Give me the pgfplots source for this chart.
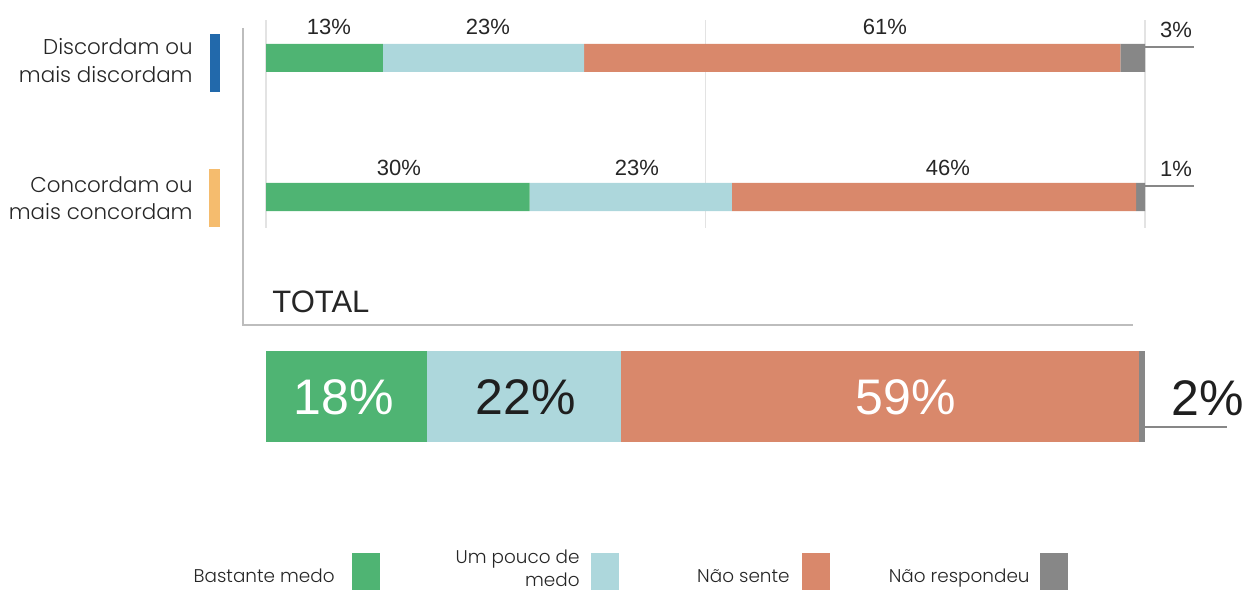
\documentclass[border=0pt]{standalone}
\usepackage{fontspec}
\usepackage{pgfplots}
\pgfplotsset{compat=1.18}
\setmainfont{Poppins}[UprightFont={* Light}]
\newfontfamily\num{Liberation Sans}
\definecolor{cgreen}{HTML}{4FB473}
\definecolor{clblue}{HTML}{ADD7DC}
\definecolor{corange}{HTML}{D9886B}
\definecolor{cgrey}{HTML}{878787}
\definecolor{cblue}{HTML}{2269AB}
\definecolor{cyellow}{HTML}{F5BC6E}
\definecolor{ctext}{HTML}{262626}
\definecolor{cgrid}{HTML}{E3E3E3}
\definecolor{cframe}{HTML}{BDBDBD}
\begin{document}
\begin{tikzpicture}
\path[use as bounding box] (0,0) rectangle (623pt,295pt);
% top axis
\begin{axis}[at={(133pt,285pt)},anchor=north west,scale only axis,
  width=439.5pt,height=104pt,xmin=0,xmax=100,ymin=362,ymax=570,
  xbar stacked,bar width=14pt,
  axis line style={draw=none},xtick={0,50,100},xticklabels={},
  ytick=\empty,tick style={draw=none},xmajorgrids,
  major grid style={draw=cgrid,line width=0.6pt},clip=false]
\addplot[fill=cgreen,draw=none] coordinates {(13.3,532) (30,393)};
\addplot[fill=clblue,draw=none] coordinates {(22.9,532) (23,393)};
\addplot[fill=corange,draw=none] coordinates {(61,532) (46,393)};
\addplot[fill=cgrey,draw=none] coordinates {(2.8,532) (1,393)};
\end{axis}
% total axis
\begin{axis}[at={(133pt,119.5pt)},anchor=north west,scale only axis,
  width=439.5pt,height=45.5pt,xmin=0,xmax=100,ymin=148,ymax=239,
  xbar stacked,bar width=45.5pt,hide axis,clip=false]
\addplot[fill=cgreen,draw=none] coordinates {(18.3,193.5)};
\addplot[fill=clblue,draw=none] coordinates {(22.1,193.5)};
\addplot[fill=corange,draw=none] coordinates {(58.9,193.5)};
\addplot[fill=cgrey,draw=none] coordinates {(0.7,193.5)};
\end{axis}
\begin{scope}[x=0.5pt,y=0.5pt]
% frame
\draw[cframe,line width=0.7pt] (243,562) -- (243,265) -- (1133,265);
% indicators
\fill[cblue] (210,556) rectangle (220,498);
\fill[cyellow] (209,421) rectangle (220,363);
% row labels
\begin{scope}[every node/.style={text=ctext,font=\fontsize{10.7pt}{13pt}\selectfont,inner sep=0pt}]
\node[anchor=base east] at (193,535) {Discordam ou};
\node[anchor=base east] at (193,507) {mais discordam};
\node[anchor=base east] at (193,398) {Concordam ou};
\node[anchor=base east] at (193,371) {mais concordam};
\end{scope}
% percent labels
\begin{scope}[every node/.style={text=ctext,font=\num\fontsize{11pt}{13pt}\selectfont,inner sep=0pt,anchor=base}]
\node at (329,555) {13\%};
\node at (488,555) {23\%};
\node at (885,555) {61\%};
\node at (399,415) {30\%};
\node at (637,415) {23\%};
\node at (948,415) {46\%};
\node at (1176,552) {3\%};
\node at (1176,413) {1\%};
\end{scope}
\draw[cgrey,line width=1pt] (1145,543) -- (1194,543);
\draw[cgrey,line width=1pt] (1145,404) -- (1194,404);
\draw[cgrey,line width=1pt] (1145,163) -- (1227,163);
% TOTAL
\node[anchor=base west,inner sep=0pt,text=black!85,font=\num\fontsize{15.5pt}{18pt}\selectfont] at (272,278) {TOTAL};
\begin{scope}[every node/.style={font=\num\fontsize{25pt}{30pt}\selectfont,inner sep=0pt,anchor=base}]
\node[text=white] at (344,176) {18\%};
\node[text=black!88] at (526,176) {22\%};
\node[text=white] at (906,176) {59\%};
\node[text=black!88] at (1208,175) {2\%};
\end{scope}
% legend
\fill[cgreen] (352,37) rectangle (380,0);
\fill[clblue] (591,37) rectangle (619,0);
\fill[corange] (802,37) rectangle (830,0);
\fill[cgrey] (1040,37) rectangle (1068,0);
\begin{scope}[every node/.style={text=ctext,font=\fontsize{9.2pt}{11pt}\selectfont,inner sep=0pt,anchor=base east}]
\node at (335,8) {Bastante medo};
\node at (580,27) {Um pouco de};
\node at (580,4) {medo};
\node at (790,8) {Não sente};
\node at (1030,8) {Não respondeu};
\end{scope}
\end{scope}
\end{tikzpicture}
\end{document}
